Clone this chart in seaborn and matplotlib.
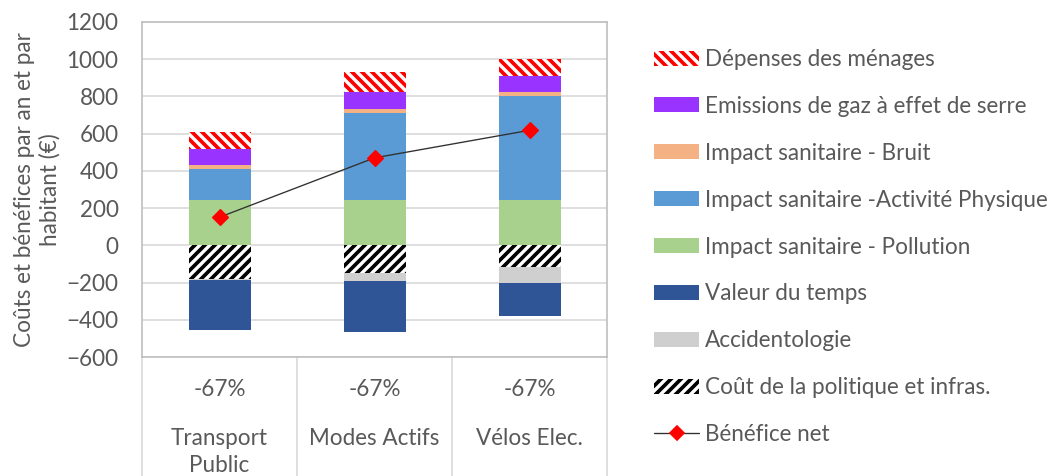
import numpy as np
import matplotlib
matplotlib.use("Agg")
import matplotlib.pyplot as plt
from matplotlib.patches import Patch
from matplotlib.lines import Line2D
import seaborn as sns

# ---- data (€ par an et par habitant) ----
categories = ["Transport\nPublic", "Modes Actifs", "Vélos Elec."]
reductions = ["-67%", "-67%", "-67%"]

pollution = [245, 245, 245]
activite_physique = [166, 468, 557]
bruit = [20, 21, 21]
emissions_ges = [84, 89, 88]
depenses_menages = [93, 111, 89]

cout_politique = [-183, -150, -118]
accidentologie = [-3, -39, -84]
valeur_temps = [-271, -275, -178]

benefice_net = [151, 470, 618]

# ---- style ----
DPI = 120
sns.set_theme(style="white")
plt.rcParams["font.family"] = ["Lato", "DejaVu Sans"]
plt.rcParams["hatch.linewidth"] = 2.2
TXT = "#595959"
FS = 13.5

fig = plt.figure(figsize=(1054 / DPI, 476 / DPI), dpi=DPI)
ax = fig.add_axes([142 / 1054, 1 - 357 / 476, (607 - 142) / 1054, (357 - 22) / 476])

x_names = ["c0", "c1", "c2"]

positive = [
    ("Impact sanitaire - Pollution", pollution, "#A9D18E", None),
    ("Impact sanitaire -Activité Physique", activite_physique, "#5B9BD5", None),
    ("Impact sanitaire - Bruit", bruit, "#F4B183", None),
    ("Emissions de gaz à effet de serre", emissions_ges, "#9933FF", None),
    ("Dépenses des ménages", depenses_menages, "red", "\\\\\\\\"),
]
negative = [
    ("Coût de la politique et infras.", cout_politique, "black", "////"),
    ("Accidentologie", accidentologie, "#CFCFCF", None),
    ("Valeur du temps", valeur_temps, "#2F5597", None),
]

handles = {}


def stack(series):
    base = np.zeros(len(x_names))
    for name, vals, col, hatch in series:
        vals = np.asarray(vals, dtype=float)
        if hatch:
            kw = dict(color="white", edgecolor=col, hatch=hatch, linewidth=0)
            handles[name] = Patch(facecolor="white", edgecolor=col, hatch=hatch, linewidth=0)
        else:
            kw = dict(color=col, linewidth=0)
            handles[name] = Patch(facecolor=col, linewidth=0)
        sns.barplot(x=x_names, y=vals, order=x_names, bottom=base, width=0.4,
                    saturation=1, errorbar=None, ax=ax, **kw)
        base = base + vals


stack(positive)
stack(negative)

# net benefit line
sns.lineplot(x=np.arange(len(x_names)), y=benefice_net, ax=ax, color="#303030",
             linewidth=0.8, marker="D", markersize=6.5, markerfacecolor="red",
             markeredgecolor="red", zorder=5)
handles["Bénéfice net"] = Line2D([], [], color="#303030", linewidth=0.8, marker="D",
                                 markersize=6, markerfacecolor="red", markeredgecolor="red")

# axes
ax.set_xlim(-0.5, 2.5)
ax.set_ylim(-600, 1200)
ax.set_yticks(np.arange(-600, 1201, 200))
ax.set_xticks([])
ax.set_xlabel("")
ax.tick_params(axis="y", length=0, pad=14, labelsize=FS, labelcolor=TXT)
ax.yaxis.grid(True, color="#D9D9D9", linewidth=1)
ax.set_axisbelow(True)
for sp in ax.spines.values():
    sp.set_color("#BFBFBF")
    sp.set_linewidth(1)
ax.set_ylabel("Coûts et bénéfices par an et par\nhabitant (€)", fontsize=FS, color=TXT,
              labelpad=3.5, linespacing=1.22)

# two-level category labels under the plot
tr = ax.get_xaxis_transform()
ax_h = 357 - 22
for i in range(4):
    ax.plot([i - 0.5, i - 0.5], [0, -(476 - 357) / ax_h], transform=tr, color="#D9D9D9",
            linewidth=1, clip_on=False)
for i, (r, c) in enumerate(zip(reductions, categories)):
    ax.text(i, -(389 - 357) / ax_h, r, transform=tr, ha="center", va="center",
            fontsize=FS, color=TXT)
    ax.text(i, -(428 - 357) / ax_h, c, transform=tr, ha="center", va="top",
            fontsize=FS, color=TXT, linespacing=1.38)

# legend
order = ["Dépenses des ménages", "Emissions de gaz à effet de serre", "Impact sanitaire - Bruit",
         "Impact sanitaire -Activité Physique", "Impact sanitaire - Pollution", "Valeur du temps",
         "Accidentologie", "Coût de la politique et infras.", "Bénéfice net"]
leg = ax.legend([handles[k] for k in order], order, loc="upper left",
                bbox_to_anchor=(654 / 1054, 1 - 49 / 476), bbox_transform=fig.transFigure,
                frameon=False, borderpad=0, borderaxespad=0, fontsize=FS,
                handlelength=2.0, handleheight=0.65, handletextpad=0.25,
                labelspacing=1.15, labelcolor=TXT)

fig.savefig("out.png", dpi=DPI)
